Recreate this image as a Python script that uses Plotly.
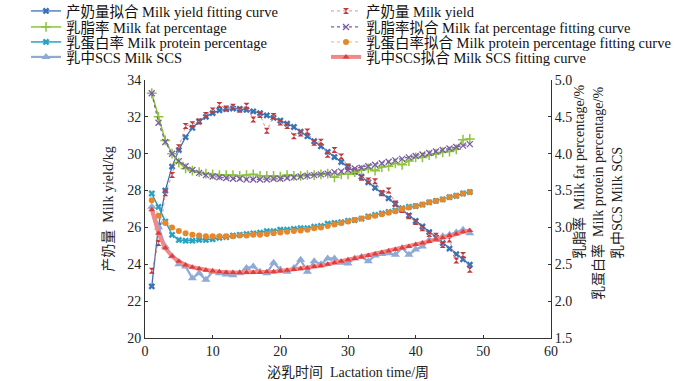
import plotly.graph_objects as go

weeks = list(range(1, 49))

yield_fit = [22.8, 26.1, 28.0, 29.3, 30.2, 30.9, 31.4, 31.75, 32.0, 32.2, 32.35, 32.42,
             32.45, 32.43, 32.38, 32.3, 32.2, 32.08, 31.95, 31.8, 31.63, 31.45, 31.2, 30.95,
             30.68, 30.4, 30.1, 29.82, 29.55, 29.28, 29.02, 28.75, 28.45, 28.15, 27.87, 27.58,
             27.27, 26.96, 26.65, 26.35, 26.05, 25.75, 25.45, 25.15, 24.85, 24.55, 24.27, 23.98]

yield_raw = [23.65, 25.15, 27.85, 28.85, 30.35, 31.5, 31.6, 31.75, 32.1, 32.35, 32.65, 32.45,
             32.55, 32.38, 32.6, 31.85, 32.1, 31.25, 32.05, 31.7, 31.5, 30.95, 31.1, 31.2,
             30.6, 30.65, 29.95, 30.2, 29.85, 29.3, 29.05, 28.7, 28.55, 28.5, 27.85, 28.0,
             27.3, 26.95, 26.6, 26.3, 25.95, 25.65, 25.55, 25.05, 25.35, 24.2, 24.5, 23.7]

fat_raw = [4.82, 4.5, 4.18, 4.0, 3.88, 3.8, 3.77, 3.75, 3.73, 3.72, 3.71, 3.71,
           3.71, 3.7, 3.71, 3.72, 3.7, 3.7, 3.7, 3.69, 3.71, 3.7, 3.7, 3.71,
           3.71, 3.72, 3.73, 3.68, 3.72, 3.72, 3.75, 3.78, 3.8, 3.77, 3.82, 3.83,
           3.87, 3.85, 3.9, 3.95, 3.95, 3.98, 4.0, 4.02, 4.03, 4.06, 4.19, 4.2]

fat_fit = [4.82, 4.42, 4.16, 4.0, 3.9, 3.83, 3.78, 3.74, 3.71, 3.69, 3.68, 3.67,
           3.66, 3.66, 3.65, 3.65, 3.65, 3.65, 3.66, 3.66, 3.67, 3.68, 3.69, 3.7,
           3.71, 3.72, 3.73, 3.75, 3.76, 3.78, 3.8, 3.81, 3.83, 3.85, 3.87, 3.89,
           3.91, 3.93, 3.95, 3.97, 3.99, 4.01, 4.03, 4.05, 4.07, 4.09, 4.11, 4.13]

protein_raw = [3.46, 3.28, 3.08, 2.9, 2.83, 2.82, 2.82, 2.83, 2.83, 2.84, 2.86, 2.87,
               2.89, 2.9, 2.91, 2.92, 2.93, 2.95, 2.95, 2.97, 2.97, 2.98, 2.99, 2.99,
               3.01, 3.02, 3.05, 3.06, 3.07, 3.09, 3.1, 3.12, 3.15, 3.17, 3.19, 3.21,
               3.23, 3.26, 3.28, 3.29, 3.31, 3.34, 3.36, 3.38, 3.41, 3.43, 3.46, 3.48]

protein_fit = [3.37, 3.16, 3.06, 3.0, 2.95, 2.92, 2.9, 2.89, 2.88, 2.88, 2.88, 2.88,
               2.88, 2.89, 2.89, 2.9, 2.9, 2.91, 2.92, 2.93, 2.94, 2.95, 2.96, 2.97,
               2.99, 3.0, 3.02, 3.04, 3.06, 3.08, 3.1, 3.12, 3.14, 3.16, 3.18, 3.2,
               3.22, 3.25, 3.27, 3.29, 3.31, 3.34, 3.36, 3.38, 3.41, 3.43, 3.46, 3.48]

scs_raw = [3.28, 3.0, 2.74, 2.61, 2.5, 2.47, 2.31, 2.38, 2.29, 2.4, 2.38, 2.36,
           2.35, 2.38, 2.45, 2.47, 2.4, 2.38, 2.52, 2.43, 2.4, 2.45, 2.56, 2.4,
           2.54, 2.5, 2.58, 2.58, 2.52, 2.51, 2.58, 2.6, 2.54, 2.62, 2.64, 2.65,
           2.63, 2.72, 2.63, 2.7, 2.74, 2.83, 2.83, 2.88, 2.9, 2.93, 2.97, 2.92]

scs_fit = [3.24, 2.92, 2.72, 2.61, 2.54, 2.49, 2.46, 2.44, 2.42, 2.41, 2.4, 2.39,
           2.39, 2.39, 2.39, 2.39, 2.39, 2.4, 2.4, 2.41, 2.42, 2.43, 2.44, 2.45,
           2.47, 2.48, 2.5, 2.52, 2.54, 2.56, 2.58, 2.6, 2.62, 2.64, 2.66, 2.68,
           2.7, 2.72, 2.74, 2.77, 2.79, 2.81, 2.84, 2.86, 2.89, 2.91, 2.94, 2.96]

x_ticks = [0, 10, 20, 30, 40, 50, 60]

FONT = "Liberation Serif, Times New Roman, Noto Sans CJK SC, serif"

# plot area in pixels
L, R, T, B = 145, 551, 80, 338
PW, PH = R - L, B - T

fig = go.Figure()

# legend slots: (column left px, row centre px)
col_x = [26, 326]
row_y = [11, 27, 42, 57]

def add(name, y, axis, color, symbol, slot, size=6, lw=1.3, dash="solid", lcolor=None, mline=0):
    idx = len(fig.data) + 1
    lg = "legend" if idx == 1 else f"legend{idx}"
    fig.add_trace(go.Scatter(
        x=weeks, y=y, name=name, yaxis=axis, mode="lines+markers", legend=lg,
        line=dict(color=lcolor or color, width=lw, dash=dash),
        marker=dict(color=color, symbol=symbol, size=size,
                    line=dict(color=color, width=mline)),
    ))
    c, r = slot
    fig.update_layout({lg: dict(
        x=(col_x[c] - L) / PW, xanchor="left",
        y=(B - row_y[r]) / PH, yanchor="middle",
        font=dict(family=FONT, size=14.5, color="#111111"),
        bgcolor="rgba(0,0,0,0)", itemwidth=30, borderwidth=0,
    )})

add("产奶量拟合 Milk yield fitting curve", yield_fit, "y", "#3a72b4", "x", (0, 0), size=6)
add("产奶量 Milk yield", yield_raw, "y", "#c0393b", "hourglass", (1, 0), size=6, lw=1, dash="dot", lcolor="#e88c8c")
add("乳脂率 Milk fat percentage", fat_raw, "y2", "#8cc43c", "cross-thin-open", (0, 1), size=7, lw=1.5, mline=1.5)
add("乳脂率拟合 Milk fat percentage fitting curve", fat_fit, "y2", "#7a5ca6", "x-thin-open", (1, 1), size=6, lw=1.2, dash="dot", mline=1.3)
add("乳蛋白率 Milk protein percentage", protein_raw, "y2", "#26a3c2", "x", (0, 2), size=6, lw=1.5)
add("乳蛋白率拟合 Milk protein percentage fitting curve", protein_fit, "y2", "#e8862a", "circle", (1, 2), size=6, lw=1, dash="dot", lcolor="#f2b07a")
add("乳中SCS Milk SCS", scs_raw, "y2", "#8eaad6", "triangle-up", (0, 3), size=8, lw=2.2)
add("乳中SCS拟合 Milk SCS fitting curve", scs_fit, "y2", "#e23c3c", "triangle-up", (1, 3), size=6, lw=4, lcolor="#f08a8a")

axis_common = dict(
    showline=True, linecolor="#333333", linewidth=1, ticks="inside", ticklen=3,
    tickcolor="#333333", showgrid=False, zeroline=False,
    tickfont=dict(family=FONT, size=14, color="#222222"),
)

fig.update_layout(
    width=700, height=381,
    margin=dict(l=L, r=700 - R, t=T, b=381 - B, autoexpand=False),
    paper_bgcolor="white", plot_bgcolor="white",
    font=dict(family=FONT, size=13, color="#222222"),
    xaxis=dict(range=[0, 60], tickvals=x_ticks, **axis_common,
               title=dict(text="泌乳时间  Lactation time/周", font=dict(family=FONT, size=14), standoff=9)),
    yaxis=dict(range=[20, 34], dtick=2, **axis_common,
               title=dict(text="产奶量  Milk yield/kg", font=dict(family=FONT, size=14), standoff=10)),
    yaxis2=dict(range=[1.5, 5.0], dtick=0.5, tickformat=".1f", overlaying="y", side="right",
                **axis_common),
    showlegend=True,
)

right_titles = [
    ("乳脂率  Milk fat percentage/%", 579, 172),
    ("乳蛋白率  Milk protein percentage/%", 598, 194),
    ("乳中SCS Milk SCS", 617, 203),
]
for txt, px, py in right_titles:
    fig.add_annotation(text=txt, xref="paper", yref="paper",
                       x=(px - L) / PW, y=(B - py) / PH, textangle=-90,
                       showarrow=False, font=dict(family=FONT, size=14, color="#222222"),
                       xanchor="center", yanchor="middle")

fig.write_html("out.html", config={"displayModeBar": False},
               post_script="document.body.style.margin='0';document.body.style.padding='0';")
